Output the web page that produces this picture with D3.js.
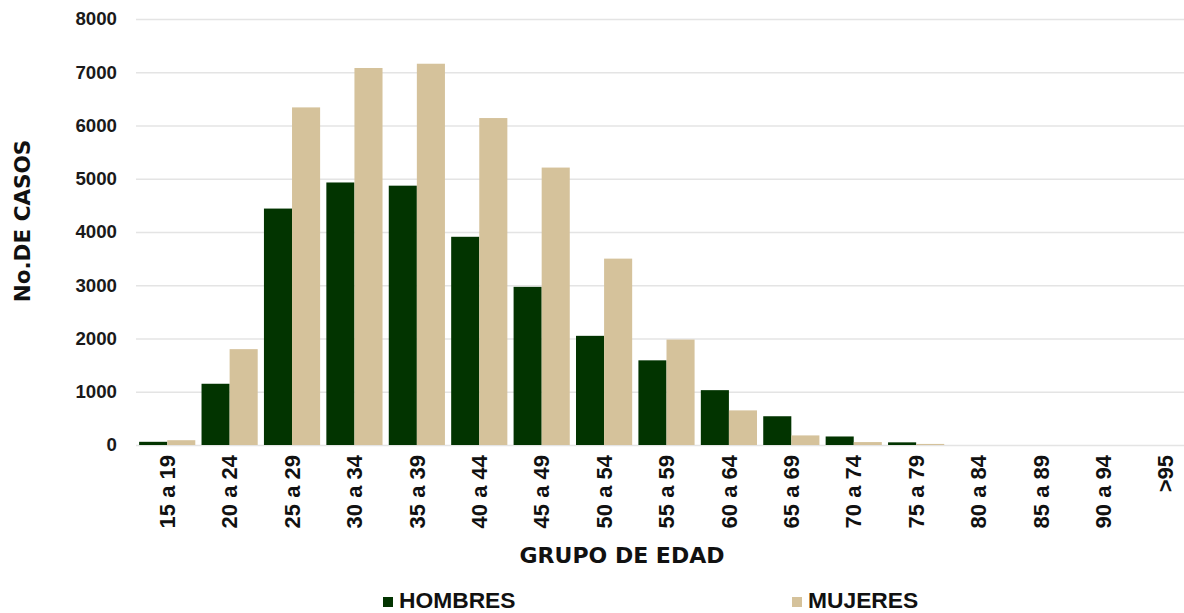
<!DOCTYPE html>
<html>
<head>
<meta charset="utf-8">
<script src="https://cdn.jsdelivr.net/npm/d3@7"></script>
<style>
  html, body { margin: 0; padding: 0; background: #ffffff; }
  svg { display: block; }
</style>
</head>
<body>
<svg id="chart" width="1184" height="613"></svg>
<script>
const categories = ["15 a 19","20 a 24","25 a 29","30 a 34","35 a 39","40 a 44","45 a 49","50 a 54","55 a 59","60 a 64","65 a 69","70 a 74","75 a 79","80 a 84","85 a 89","90 a 94",">95"];
const hombres = [60,1150,4440,4930,4870,3910,2970,2050,1590,1030,540,160,50,0,0,0,0];
const mujeres = [90,1800,6340,7080,7160,6140,5210,3500,1980,650,180,55,20,0,0,0,0];
const seriesNames = ["HOMBRES","MUJERES"];
const yTicks = [0,1000,2000,3000,4000,5000,6000,7000,8000];

const colors = { HOMBRES: "#023400", MUJERES: "#d5c29b" };

const svg = d3.select("#chart");
const W = 1184, H = 613;
const plot = { left: 136, right: 1197, top: 19, bottom: 445 };

const x = d3.scaleBand().domain(categories).range([plot.left, plot.right]).paddingInner(0.1).paddingOuter(0.05);
const xs = d3.scaleBand().domain(seriesNames).range([0, x.bandwidth()]);
const y = d3.scaleLinear().domain([0, 8000]).range([plot.bottom, plot.top]);

// gridlines + y tick labels
const yAxis = d3.axisLeft(y).tickValues(yTicks).tickSize(-(W - plot.left)).tickPadding(18).tickFormat(d3.format("d"));
const gy = svg.append("g").attr("transform", `translate(${plot.left},0)`).call(yAxis);
gy.select(".domain").remove();
gy.selectAll(".tick line").attr("stroke", "#e4e4e4").attr("stroke-width", 1.3);
gy.selectAll(".tick text")
  .attr("font-family", "'Liberation Sans', Arial, sans-serif")
  .attr("font-weight", "bold").attr("font-size", 18.7).attr("fill", "#1a1a1a")
  .attr("x", 117 - plot.left);

// bars
const data = categories.map((c, i) => ({ cat: c, vals: [{ s: "HOMBRES", v: hombres[i] }, { s: "MUJERES", v: mujeres[i] }] }));
const groups = svg.append("g").selectAll("g").data(data).join("g")
  .attr("transform", d => `translate(${x(d.cat)},0)`);
groups.selectAll("rect").data(d => d.vals).join("rect")
  .attr("x", d => xs(d.s))
  .attr("width", xs.bandwidth())
  .attr("y", d => y(d.v))
  .attr("height", d => y(0) - y(d.v))
  .attr("fill", d => colors[d.s]);

// x axis labels
const xAxis = d3.axisBottom(x).tickSize(0).tickPadding(0);
const gx = svg.append("g").attr("transform", `translate(0,${plot.bottom})`).call(xAxis);
gx.select(".domain").remove();
gx.selectAll(".tick text")
  .attr("font-family", "'Liberation Sans', Arial, sans-serif")
  .attr("font-weight", "bold").attr("font-size", 22).attr("fill", "#111")
  .attr("transform", "rotate(-90)")
  .attr("x", -10).attr("y", 0).attr("dy", "0.35em")
  .style("text-anchor", "end");

// axis titles
svg.append("text")
  .attr("transform", "translate(30,221) rotate(-90)")
  .attr("text-anchor", "middle")
  .attr("font-family", "'DejaVu Sans', sans-serif").attr("font-weight", "bold")
  .attr("font-size", 21.5).attr("fill", "#111")
  .text("No.DE CASOS");

svg.append("text")
  .attr("x", 622).attr("y", 563)
  .attr("text-anchor", "middle")
  .attr("font-family", "'DejaVu Sans', sans-serif").attr("font-weight", "bold")
  .attr("font-size", 22).attr("fill", "#111")
  .text("GRUPO DE EDAD");

// legend
const legendX = { HOMBRES: 383, MUJERES: 792 };
const lg = svg.append("g").selectAll("g").data(seriesNames).join("g")
  .attr("transform", d => `translate(${legendX[d]},0)`);
lg.append("rect").attr("x", 0).attr("y", 597).attr("width", 10).attr("height", 10)
  .attr("fill", d => colors[d]);
lg.append("text").attr("x", 16).attr("y", 607.5)
  .attr("font-family", "'Liberation Sans', Arial, sans-serif").attr("font-weight", "bold")
  .attr("font-size", 22.8).attr("fill", "#111")
  .text(d => d);
</script>
</body>
</html>
